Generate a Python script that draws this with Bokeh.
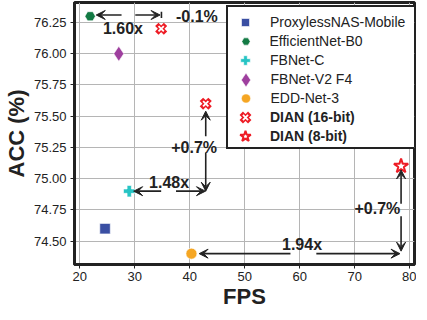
from bokeh.plotting import figure
from bokeh.models import (ColumnDataSource, Arrow, VeeHead, Legend, LegendItem,
                          FixedTicker, NumeralTickFormatter, Range1d)
from bokeh.core.properties import value
from bokeh.embed import file_html
from bokeh.resources import INLINE

# ---------------- data ----------------
models = ["ProxylessNAS-Mobile", "EfficientNet-B0", "FBNet-C", "FBNet-V2 F4", "EDD-Net-3"]
fps = [24.6, 21.9, 29.0, 27.1, 40.3]
acc = [74.60, 76.30, 74.90, 76.00, 74.40]
dian16_label = "DIAN (16-bit)"
dian16_fps = [34.8, 42.9]
dian16_acc = [76.20, 75.60]
dian8_label = "DIAN (8-bit)"
dian8_fps = [78.4]
dian8_acc = [75.10]

x_ticks = [20, 30, 40, 50, 60, 70, 80]
y_ticks = [74.50, 74.75, 75.00, 75.25, 75.50, 75.75, 76.00, 76.25]

arrow_x0 = [27.6, 30.1, 42.9, 42.9, 34.8, 37.5, 78.4, 78.4, 58.3, 63.0]
arrow_y0 = [76.31, 76.31, 75.34, 75.21, 74.90, 74.90, 74.80, 74.70, 74.40, 74.40]
arrow_x1 = [23.0, 34.6, 42.9, 42.9, 29.8, 42.85, 78.4, 78.4, 41.7, 78.2]
arrow_y1 = [76.31, 76.31, 75.54, 74.90, 74.90, 74.90, 75.07, 74.42, 74.40, 74.40]

tick_x0 = [34.85]
tick_y0 = [76.335]
tick_x1 = [34.85]
tick_y1 = [76.285]

note_text = ["1.60x", "-0.1%", "+0.7%", "1.48x", "+0.7%", "1.94x"]
note_x = [27.86, 41.3, 40.8, 36.25, 74.1, 60.4]
note_y = [76.20, 76.30, 75.25, 74.97, 74.76, 74.47]

# ---------------- styles ----------------
FONT = "Liberation Sans"
INK = "#222222"
colors = ["#3a4fa3", "#137a44", "#26c4c4", "#9e3f9e", "#f5a623"]
markers = ["square", "hex", "plus", "diamond", "circle"]
sizes = [10.5, 10.5, 11.5, 15, 11]
RED = "#ee1c25"

FW, FH = 340, 262
p = figure(frame_width=FW, frame_height=FH,
           x_range=Range1d(19.05, 80.84), y_range=Range1d(74.313, 76.41),
           output_backend="svg", toolbar_location=None,
           min_border_left=69, min_border_right=2, min_border_top=2, min_border_bottom=0)
p.background_fill_color = "white"
p.border_fill_color = "white"
p.outline_line_color = INK
p.outline_line_width = 3
p.outline_line_alpha = 1

p.xaxis.ticker = FixedTicker(ticks=x_ticks)
p.yaxis.ticker = FixedTicker(ticks=y_ticks)
p.yaxis.formatter = NumeralTickFormatter(format="0.00")
for ax in (p.xaxis[0], p.yaxis[0]):
    ax.axis_line_color = INK
    ax.axis_line_width = 3
    ax.major_tick_line_color = INK
    ax.major_tick_line_width = 1
    ax.major_tick_out = 4
    ax.major_tick_in = 0
    ax.minor_tick_line_color = None
    ax.major_label_text_font = FONT
    ax.major_label_text_font_size = "13px"
    ax.major_label_text_color = INK
    ax.axis_label_text_font = FONT
    ax.axis_label_text_font_size = "22px"
    ax.axis_label_text_font_style = "bold"
    ax.axis_label_text_color = INK
p.xaxis.axis_label = "FPS"
p.yaxis.axis_label = "ACC (%)"
p.xaxis.major_label_standoff = 3
p.xaxis.axis_label_standoff = 0
p.yaxis.major_label_standoff = 4
p.yaxis.axis_label_standoff = 2

p.xgrid.grid_line_color = "#b5b5b5"
p.ygrid.grid_line_color = "#b5b5b5"
p.xgrid.grid_line_width = 1
p.ygrid.grid_line_width = 1

# ---------------- marks ----------------
renderers = []
for i in range(len(models)):
    r = p.scatter(x=[fps[i]], y=[acc[i]], marker=markers[i], size=sizes[i],
                  fill_color=colors[i], line_color="white", line_width=0.6)
    renderers.append(r)

# outlined "X": thick red x with thinner white x on top
r16a = p.scatter(x=dian16_fps, y=dian16_acc, marker="x", size=7.5,
                 line_color=RED, line_width=4.8, line_cap="square")
r16b = p.scatter(x=dian16_fps, y=dian16_acc, marker="x", size=7.5,
                 line_color="white", line_width=1.8, line_cap="butt")
r8 = p.scatter(x=dian8_fps, y=dian8_acc, marker="star", size=15,
               fill_color="white", line_color=RED, line_width=2)

asrc = ColumnDataSource(dict(x0=arrow_x0, y0=arrow_y0, x1=arrow_x1, y1=arrow_y1))
p.add_layout(Arrow(x_start="x0", y_start="y0", x_end="x1", y_end="y1", source=asrc,
                   line_color=INK, line_width=1.6,
                   end=VeeHead(size=9, fill_color=INK, line_color=INK, line_width=1)))
p.segment(x0=tick_x0, y0=tick_y0, x1=tick_x1, y1=tick_y1, line_color=INK, line_width=1.6)

tsrc = ColumnDataSource(dict(x=note_x, y=note_y, t=note_text))
p.text(x="x", y="y", text="t", source=tsrc, text_font=value(FONT), text_font_size="16px",
       text_font_style="bold", text_color=INK, text_align="center", text_baseline="middle")

# ---------------- legend ----------------
BOX_LEFT = 152
BOX_TOP_GAP = 7
BOX_H = 140
BOX_W = 186
ROW0 = 13
ROW_PITCH = 19

# box (one blank item with an invisible dummy glyph)
dummy = p.scatter(x=[], y=[], marker="circle", fill_alpha=0, line_alpha=0)
box = Legend(items=[LegendItem(label=" ", renderers=[dummy])])
box.location = (BOX_LEFT, FH - BOX_TOP_GAP - BOX_H)
box.padding = 0
box.margin = 0
box.spacing = 0
box.glyph_height = BOX_H
box.label_height = BOX_H
box.glyph_width = 38
box.label_standoff = 6
box.label_width = BOX_W - 44
box.label_text_font = FONT
box.label_text_font_size = "14px"
box.border_line_color = INK
box.border_line_width = 2.5
box.border_line_alpha = 1
box.background_fill_color = "white"
box.background_fill_alpha = 1
p.add_layout(box)

row_labels = models + [dian16_label, dian8_label]
row_renderers = [[r] for r in renderers] + [[r16a, r16b], [r8]]
row_gw = [20, 21, 24, 35, 23, 18, 28]       # legend glyph size = 0.4 * glyph box
row_bold = [False] * 5 + [True, True]
for i in range(len(row_labels)):
    gw = row_gw[i]
    gh = max(24, gw)
    center = BOX_TOP_GAP + ROW0 + i * ROW_PITCH
    lg = Legend(items=[LegendItem(label=row_labels[i], renderers=row_renderers[i])])
    lg.location = (BOX_LEFT + 19 - gw / 2, FH - center - gh / 2)
    lg.padding = 0
    lg.margin = 0
    lg.spacing = 0
    lg.glyph_width = gw
    lg.glyph_height = gh
    lg.label_height = gh
    lg.label_standoff = int(round(25 - gw / 2))
    lg.label_width = 20
    lg.label_text_font = FONT
    lg.label_text_font_size = "14px"
    lg.label_text_color = INK
    lg.label_text_baseline = "middle"
    lg.label_text_font_style = "bold" if row_bold[i] else "normal"
    lg.border_line_alpha = 0
    lg.background_fill_alpha = 0
    p.add_layout(lg)

open("out.html", "w").write(file_html(p, INLINE))
